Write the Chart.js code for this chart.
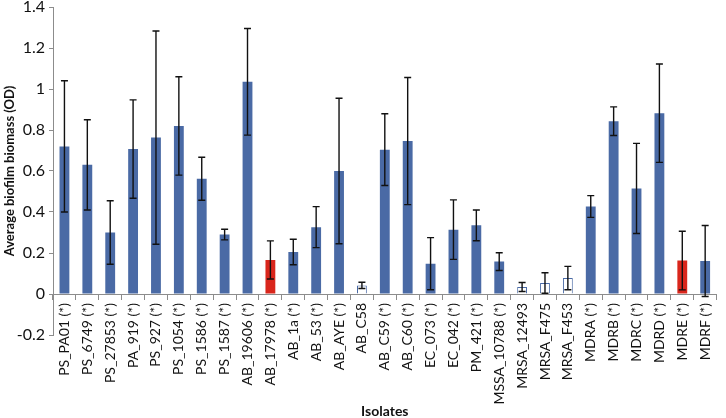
<!DOCTYPE html>
<html lang="en">
  <head>
    <meta charset="UTF-8" />
    <title>Average biofilm biomass by isolate</title>
    <style>
      html,
      body {
        margin: 0;
        padding: 0;
        background: #fff;
      }
      #biofilm {
        display: block;
      }
    </style>
  </head>
  <body>
    <canvas id="biofilm" width="726" height="418"></canvas>
    <script src="https://cdn.jsdelivr.net/npm/chart.js"></script>
    <script>
      // isolates on the x axis
      const isolates = [
        "PS_PA01 (*)", "PS_6749 (*)", "PS_27853 (*)", "PA_919 (*)", "PS_927 (*)",
        "PS_1054 (*)", "PS_1586 (*)", "PS_1587 (*)", "AB_19606 (*)", "AB_17978 (*)",
        "AB_1a (*)", "AB_53 (*)", "AB_AYE (*)", "AB_C58", "AB_C59 (*)",
        "AB_C60 (*)", "EC_073 (*)", "EC_042 (*)", "PM_421 (*)", "MSSA_10788 (*)",
        "MRSA_12493", "MRSA_F475", "MRSA_F453", "MDRA (*)", "MDRB (*)",
        "MDRC (*)", "MDRD (*)", "MDRE (*)", "MDRF (*)",
      ];
      // mean OD and standard deviation
      const meanOD = [
        0.72, 0.63, 0.30, 0.707, 0.763,
        0.82, 0.562, 0.29, 1.035, 0.166,
        0.205, 0.326, 0.60, 0.042, 0.704,
        0.746, 0.148, 0.314, 0.335, 0.158,
        0.034, 0.054, 0.078, 0.427, 0.843,
        0.515, 0.882, 0.163, 0.161,
      ];
      const sdOD = [
        0.32, 0.22, 0.155, 0.24, 0.52,
        0.24, 0.105, 0.026, 0.26, 0.093,
        0.062, 0.10, 0.355, 0.015, 0.175,
        0.31, 0.127, 0.145, 0.075, 0.043,
        0.022, 0.05, 0.057, 0.053, 0.07,
        0.22, 0.24, 0.143, 0.173,
      ];
      // isolates drawn in red, and the ones drawn as empty boxes
      const redIsolates = ["AB_17978 (*)", "MDRE (*)"];
      const openIsolates = ["AB_C58", "MRSA_12493", "MRSA_F475", "MRSA_F453"];
      const yTicks = [-0.2, 0, 0.2, 0.4, 0.6, 0.8, 1, 1.2, 1.4];

      const BLUE = "#4a6aa5";
      const RED = "#d9261c";
      const AXIS = "#8c8c8c";
      const FONT = "Lato, 'Liberation Sans', sans-serif";

      const fillColors = isolates.map((n) =>
        redIsolates.includes(n) ? RED : openIsolates.includes(n) ? "#ffffff" : BLUE
      );
      const edgeColors = isolates.map((n) => (redIsolates.includes(n) ? RED : BLUE));
      const edgeWidths = isolates.map((n) => (openIsolates.includes(n) ? 1 : 0));

      // error bars, drawn from the y scale of the chart
      const errorBars = {
        id: "errorBars",
        afterDatasetsDraw(chart) {
          const { ctx } = chart;
          const yScale = chart.scales.y;
          const meta = chart.getDatasetMeta(0);
          ctx.save();
          ctx.strokeStyle = "#111";
          ctx.lineWidth = 1.4;
          meta.data.forEach((bar, i) => {
            const top = yScale.getPixelForValue(meanOD[i] + sdOD[i]);
            const bottom = yScale.getPixelForValue(meanOD[i] - sdOD[i]);
            const x = bar.x;
            ctx.beginPath();
            ctx.moveTo(x, top);
            ctx.lineTo(x, bottom);
            ctx.moveTo(x - 3.5, top);
            ctx.lineTo(x + 3.5, top);
            ctx.moveTo(x - 3.5, bottom);
            ctx.lineTo(x + 3.5, bottom);
            ctx.stroke();
          });
          ctx.restore();
        },
      };

      new Chart(document.getElementById("biofilm"), {
        type: "bar",
        data: {
          labels: isolates,
          datasets: [
            {
              label: "Average biofilm biomass (OD)",
              data: meanOD,
              backgroundColor: fillColors,
              borderColor: edgeColors,
              borderWidth: edgeWidths,
              barPercentage: 0.43,
              categoryPercentage: 1,
            },
          ],
        },
        options: {
          responsive: false,
          animation: false,
          layout: { padding: { top: 0, right: 2, bottom: 83, left: 0 } },
          plugins: {
            legend: { display: false },
            tooltip: { enabled: false },
          },
          scales: {
            x: {
              position: { y: 0 },
              grid: {
                offset: true,
                drawOnChartArea: false,
                drawTicks: true,
                tickLength: 5,
                color: AXIS,
              },
              border: { color: AXIS, width: 1 },
              ticks: {
                autoSkip: false,
                minRotation: 90,
                maxRotation: 90,
                padding: 4,
                color: "#111",
                font: { family: FONT, size: 14 },
              },
              title: {
                display: true,
                text: "Isolates",
                color: "#111",
                padding: { top: -4, bottom: 0 },
                font: { family: FONT, size: 14, weight: "bold", lineHeight: 1 },
              },
            },
            y: {
              min: -0.2,
              max: 1.4,
              afterBuildTicks: (scale) => {
                scale.ticks = yTicks.map((v) => ({ value: v }));
              },
              afterFit: (scale) => {
                scale.width = 53;
                scale.paddingTop = 7;
                scale.paddingBottom = 0;
              },
              grid: {
                drawOnChartArea: false,
                drawTicks: true,
                tickLength: 4,
                color: AXIS,
              },
              border: { color: AXIS, width: 1 },
              ticks: {
                padding: 4,
                color: "#111",
                font: { family: FONT, size: 16, lineHeight: 1 },
                callback: (v) => String(Math.round(v * 10) / 10),
              },
              title: {
                display: true,
                text: "Average biofilm biomass (OD)",
                color: "#111",
                padding: { top: 2, bottom: 0 },
                font: { family: FONT, size: 13, weight: "bold" },
              },
            },
          },
        },
        plugins: [errorBars],
      });
    </script>
  </body>
</html>
